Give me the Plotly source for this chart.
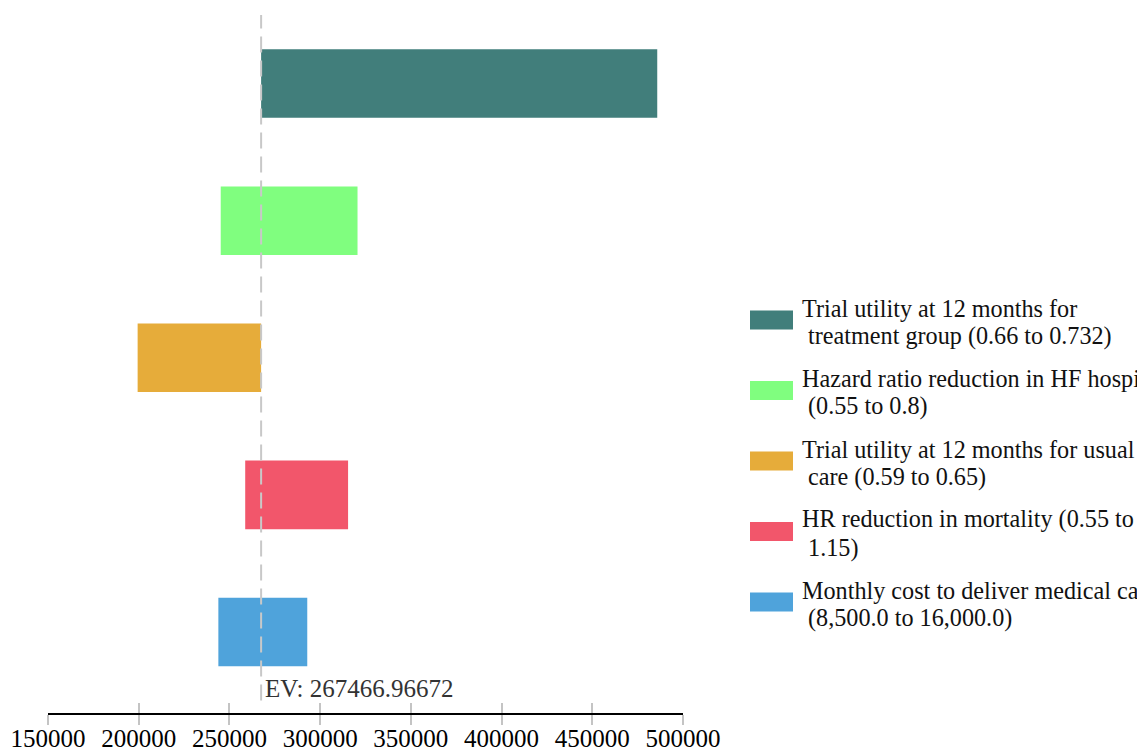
import plotly.graph_objects as go

# ---- data ----
ev = 267466.96672
param_line1 = [
    "Trial utility at 12 months for",
    "Hazard ratio reduction in HF hospitalization",
    "Trial utility at 12 months for usual",
    "HR reduction in mortality (0.55 to",
    "Monthly cost to deliver medical care",
]
param_line2 = [
    "treatment group (0.66 to 0.732)",
    "(0.55 to 0.8)",
    "care (0.59 to 0.65)",
    "1.15)",
    "(8,500.0 to 16,000.0)",
]
low_values = [267466.96672, 245200, 199400, 258700, 243900]
high_values = [485800, 320600, 267466.96672, 315400, 292900]
colors = ["#417e7b", "#80fe7f", "#e6ac3a", "#f2566b", "#4fa3db"]
tick_values = [150000, 200000, 250000, 300000, 350000, 400000, 450000, 500000]
tick_labels = ["150000", "200000", "250000", "300000", "350000", "400000", "450000", "500000"]

FONT = "Liberation Serif"
FS = 25
FS_LEG = 24.2
PAGE_PAD = 8  # default body margin of the html page
W, H = 1145 - PAGE_PAD, 751 - PAGE_PAD
ML, MT = 48 - PAGE_PAD, 15 - PAGE_PAD
MR, MB = 1145 - 683, 751 - 713
plot_w = W - ML - MR
plot_h = H - MT - MB

n = len(param_line1)
cat_ids = [f"p{i}" for i in range(n)]
cat_order = list(reversed(cat_ids))  # bottom-to-top

fig = go.Figure()
for cid, l1, l2, lo, hi, col in zip(cat_ids, param_line1, param_line2, low_values, high_values, colors):
    fig.add_trace(go.Bar(
        y=[cid], x=[hi - lo], base=[lo], orientation="h", name=f"{l1} {l2}",
        marker=dict(color=col, line=dict(width=0)),
        width=0.5, showlegend=False, hoverinfo="skip",
    ))

# invisible trace to carry the overlay axis (for ticks crossing the axis line)
fig.add_trace(go.Scatter(x=[ev], y=[cat_ids[0]], xaxis="x2", mode="markers",
                         marker=dict(opacity=0), showlegend=False, hoverinfo="skip"))

# EV dashed line
fig.add_shape(type="line", xref="x", yref="y", x0=ev, x1=ev, y0=-0.5, y1=n - 0.5,
              line=dict(color="#c8c8c8", width=2, dash="16px,8px"), layer="above")

fig.add_annotation(x=ev, y=-0.5, xref="x", yref="y", text=f"EV: {ev}",
                   showarrow=False, xanchor="left", yanchor="middle", xshift=2, yshift=12,
                   font=dict(family=FONT, size=FS, color="#333333"))

# manual legend (swatch + two label lines); pixel positions are page pixels
def px_to_paper_x(px):
    return (px - PAGE_PAD - ML) / plot_w

def px_to_paper_y(py):
    return (H - MB - (py - PAGE_PAD)) / plot_h

leg_top_center = 320
leg_step = 70.5
sw_x0, sw_x1, sw_h = 750, 793, 19
txt_x = 800
for i, (l1, l2, col) in enumerate(zip(param_line1, param_line2, colors)):
    cy = leg_top_center + i * leg_step
    fig.add_shape(type="rect", xref="paper", yref="paper",
                  x0=px_to_paper_x(sw_x0), x1=px_to_paper_x(sw_x1),
                  y0=px_to_paper_y(cy + sw_h / 2), y1=px_to_paper_y(cy - sw_h / 2),
                  fillcolor=col, line=dict(width=0))
    for txt, dy in ((l1, -12), ("\u00a0" + l2, 16)):
        fig.add_annotation(xref="paper", yref="paper", x=px_to_paper_x(txt_x), y=px_to_paper_y(cy + dy),
                           text=txt, showarrow=False,
                           xanchor="left", yanchor="middle", align="left",
                           font=dict(family=FONT, size=FS_LEG, color="#111111"))

fig.update_layout(
    width=W, height=H,
    margin=dict(l=ML, r=MR, t=MT, b=MB, autoexpand=False),
    paper_bgcolor="white", plot_bgcolor="white",
    barmode="overlay",
    showlegend=False,
    font=dict(family=FONT, size=FS, color="black"),
    xaxis=dict(range=[150000, 500000], tickmode="array", tickvals=tick_values, ticktext=tick_labels,
               showgrid=False, zeroline=False, showline=True, linecolor="black", linewidth=2,
               ticks="outside", ticklen=10, tickwidth=2, tickcolor="#c4c4c4",
               ticklabelstandoff=-8,
               tickfont=dict(family=FONT, size=FS, color="black")),
    xaxis2=dict(overlaying="x", matches="x", anchor="y", side="bottom",
                tickmode="array", tickvals=tick_values,
                showgrid=False, zeroline=False, showline=False, showticklabels=False,
                ticks="inside", ticklen=10, tickwidth=2, tickcolor="#c4c4c4"),
    yaxis=dict(type="category", categoryorder="array", categoryarray=cat_order,
               range=[-0.591, n - 0.5],
               showgrid=False, zeroline=False, showline=False, showticklabels=False, ticks=""),
)

fig.write_html("out.html")
